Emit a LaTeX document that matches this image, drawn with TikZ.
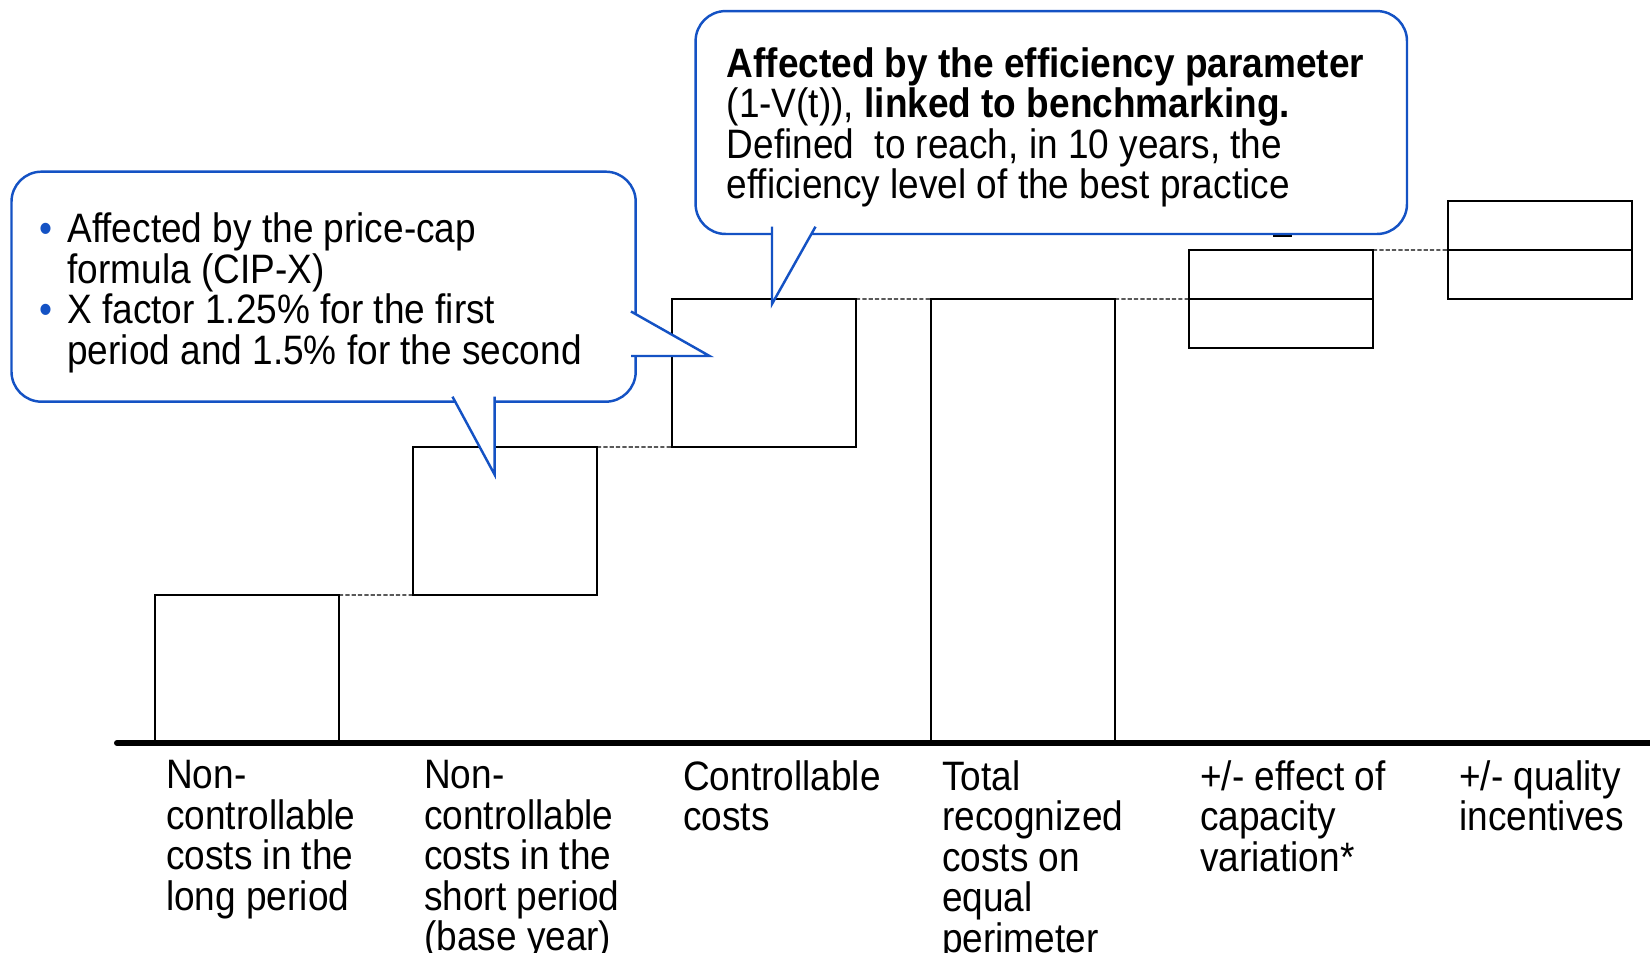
\documentclass[tikz,border=0pt]{standalone}
\usepackage{fontspec}
\setmainfont[FakeStretch=0.9]{Liberation Sans}
\usepackage{xcolor}
\usetikzlibrary{positioning,calc}

\definecolor{callblue}{RGB}{20,82,196}
\newcommand{\callbullet}{\llap{\textcolor{callblue}{\textbullet}\hspace{0.15cm}}}

\tikzset{
  bar/.style={draw, line width=0.6pt, minimum width=1.84cm, inner sep=0pt, outer sep=0pt, anchor=south west},
  guide/.style={line width=0.4pt, dash pattern=on 1.2pt off 0.6pt},
  barlabel/.style={anchor=north west, align=left, inner sep=0pt, font=\fontsize{11.7}{11.5}\selectfont},
  callbox/.style={draw=callblue, fill=white, line width=0.7pt, rounded corners=0.3cm, inner sep=0pt, outer sep=0pt, anchor=south west},
  callout/.style={draw=callblue, fill=white, line width=0.7pt},
  calltext/.style={anchor=north west, align=left, inner sep=0pt, font=\fontsize{11.7}{11.5}\selectfont}
}

\begin{document}
\begin{tikzpicture}
    \useasboundingbox (0,0) rectangle (16.5,9.53);

    % cost steps
    \node[bar, minimum height=1.48cm] (ncl) at (1.55,2.10) {};
    \node[bar, minimum height=1.48cm] (ncs) at (4.13,3.58) {};
    \node[bar, minimum height=1.48cm] (ctrl) at (6.72,5.06) {};
    \node[bar, minimum height=4.44cm] (total) at (9.31,2.10) {};

    % +/- corrections
    \node[bar, minimum height=0.49cm] (capalo) at (11.89,6.05) {};
    \node[bar, minimum height=0.49cm, above=0pt of capalo] (capahi) {};
    \node[bar, minimum height=0.49cm] (quallo) at (14.48,6.54) {};
    \node[bar, minimum height=0.49cm, above=0pt of quallo] (qualhi) {};

    % level guides
    \draw[guide] (ncl.north east) -- (ncs.south west);
    \draw[guide] (ncs.north east) -- (ctrl.south west);
    \draw[guide] (ctrl.north east) -- (total.north west);
    \draw[guide] (total.north east) -- (capahi.south west);
    \draw[guide] (capahi.north east) -- (qualhi.south west);

    % axis
    \coordinate (axl) at (1.17,2.10);
    \coordinate (axr) at (16.6,2.10);
    \draw[line width=1.7pt, line cap=round] (axl) -- (axr);

    % labels under the axis
    \node[barlabel] (lncl) at ($(ncl.south west)+(0.105,-0.17)$) {Non-\\controllable\\costs in the\\long period};
    \node[barlabel] (lncs) at ($(ncs.south west |- ncl.south)+(0.105,-0.17)$) {Non-\\controllable\\costs in the\\short period\\(base year)};
    \node[barlabel] (lctrl) at ($(ctrl.south west |- ncl.south)+(0.105,-0.17)$) {Controllable\\costs};
    \node[barlabel] (ltotal) at ($(total.south west)+(0.105,-0.17)$) {Total\\recognized\\costs on\\equal\\perimeter};
    \node[barlabel] (lcapa) at ($(capalo.south west |- ncl.south)+(0.105,-0.17)$) {+/- effect of\\capacity\\variation*};
    \node[barlabel] (lqual) at ($(quallo.south west |- ncl.south)+(0.105,-0.17)$) {+/- quality\\incentives};

    % hidden mark below the upper callout
    \draw[line width=0.6pt] (12.73,7.17) -- (12.92,7.17);

    % price-cap callout
    \node[callbox, minimum width=6.242cm, minimum height=2.30cm] (capbox) at (0.115,5.513) {};
    \coordinate (tipr) at (7.095,5.97);
    \coordinate (tipb) at (4.946,4.784);
    \draw[callout] (6.31,6.415) -- (tipr) -- (6.31,5.97);
    \draw[callout] (4.525,5.563) -- (tipb) -- (4.946,5.563);
    \node[calltext] (captxt) at (0.667,7.405)
      {\callbullet Affected by the price-cap\\formula (CIP-X)\\
       \callbullet X factor 1.25\% for the first\\period and 1.5\% for the second};

    % efficiency callout
    \node[callbox, minimum width=7.114cm, minimum height=2.229cm] (effbox) at (6.956,7.19) {};
    \coordinate (tipt) at (7.72,6.49);
    \draw[callout] (7.72,7.263) -- (tipt) -- (8.155,7.263);
    \node[calltext] (efftxt) at (7.26,9.06)
      {\textbf{Affected by the efficiency parameter}\\
       (1-V(t)), \textbf{linked to benchmarking.}\\
       Defined\ \ to reach, in 10 years, the\\
       efficiency level of the best practice};
\end{tikzpicture}
\end{document}
